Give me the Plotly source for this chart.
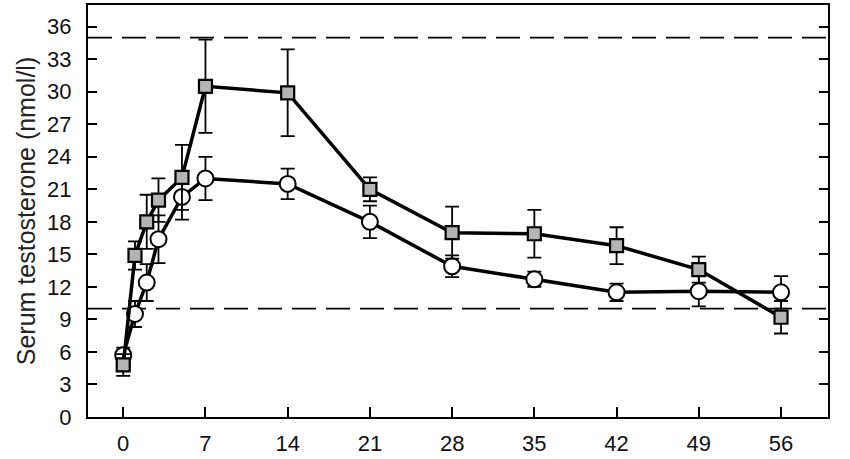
import plotly.graph_objects as go

days = [0, 1, 2, 3, 5, 7, 14, 21, 28, 35, 42, 49, 56]
square_vals = [4.8, 14.9, 18.0, 20.0, 22.1, 30.5, 29.9, 21.0, 17.0, 16.9, 15.8, 13.6, 9.2]
square_err = [1.0, 1.3, 2.5, 2.0, 3.0, 4.3, 4.0, 1.1, 2.4, 2.2, 1.7, 1.2, 1.5]
circle_vals = [5.7, 9.5, 12.4, 16.4, 20.3, 22.0, 21.5, 18.0, 13.9, 12.7, 11.5, 11.6, 11.5]
circle_err = [0.7, 1.2, 1.7, 2.2, 2.1, 2.0, 1.4, 1.5, 1.0, 0.7, 0.8, 1.4, 1.5]
ref_lines = [35, 10]
x_ticks = [0, 7, 14, 21, 28, 35, 42, 49, 56]
y_ticks = [0, 3, 6, 9, 12, 15, 18, 21, 24, 27, 30, 33, 36]

fig = go.Figure()

for yv in ref_lines:
    fig.add_hline(y=yv, line=dict(color="black", width=1.8, dash="24px,10px"), layer="below")

fig.add_trace(go.Scatter(
    x=days, y=circle_vals, mode="lines+markers",
    line=dict(color="black", width=3.5),
    marker=dict(symbol="circle", size=16, color="white", line=dict(color="black", width=2)),
    error_y=dict(type="data", array=circle_err, color="black", thickness=1.8, width=7),
    showlegend=False,
))
fig.add_trace(go.Scatter(
    x=days, y=square_vals, mode="lines+markers",
    line=dict(color="black", width=3.5),
    marker=dict(symbol="square", size=13, color="#b4b4b4", line=dict(color="black", width=2.2)),
    error_y=dict(type="data", array=square_err, color="black", thickness=1.8, width=7),
    showlegend=False,
))

font = dict(family="Liberation Sans, Arial, sans-serif", size=22, color="#111111")

fig.update_layout(
    width=850, height=459,
    margin=dict(l=88, r=22, t=3, b=41),
    paper_bgcolor="white", plot_bgcolor="white",
    font=font,
)
fig.update_xaxes(
    range=[-3, 60], tickvals=x_ticks, ticks="inside", ticklen=10, tickwidth=1.8,
    tickcolor="black", showline=True, linecolor="black", linewidth=2, mirror=True,
    showgrid=False, zeroline=False, tickfont=font, ticklabelstandoff=6,
)
fig.update_yaxes(
    range=[0, 38], tickvals=y_ticks, ticks="inside", ticklen=9, tickwidth=1.8,
    tickcolor="black", showline=True, linecolor="black", linewidth=2, mirror="ticks",
    showgrid=False, zeroline=False, tickfont=font, ticklabelstandoff=10,
    title=dict(text="Serum testosterone (nmol/l)", font=dict(family="Liberation Sans, Arial, sans-serif", size=25, color="#222222"), standoff=4),
)

fig.write_html("out.html")
